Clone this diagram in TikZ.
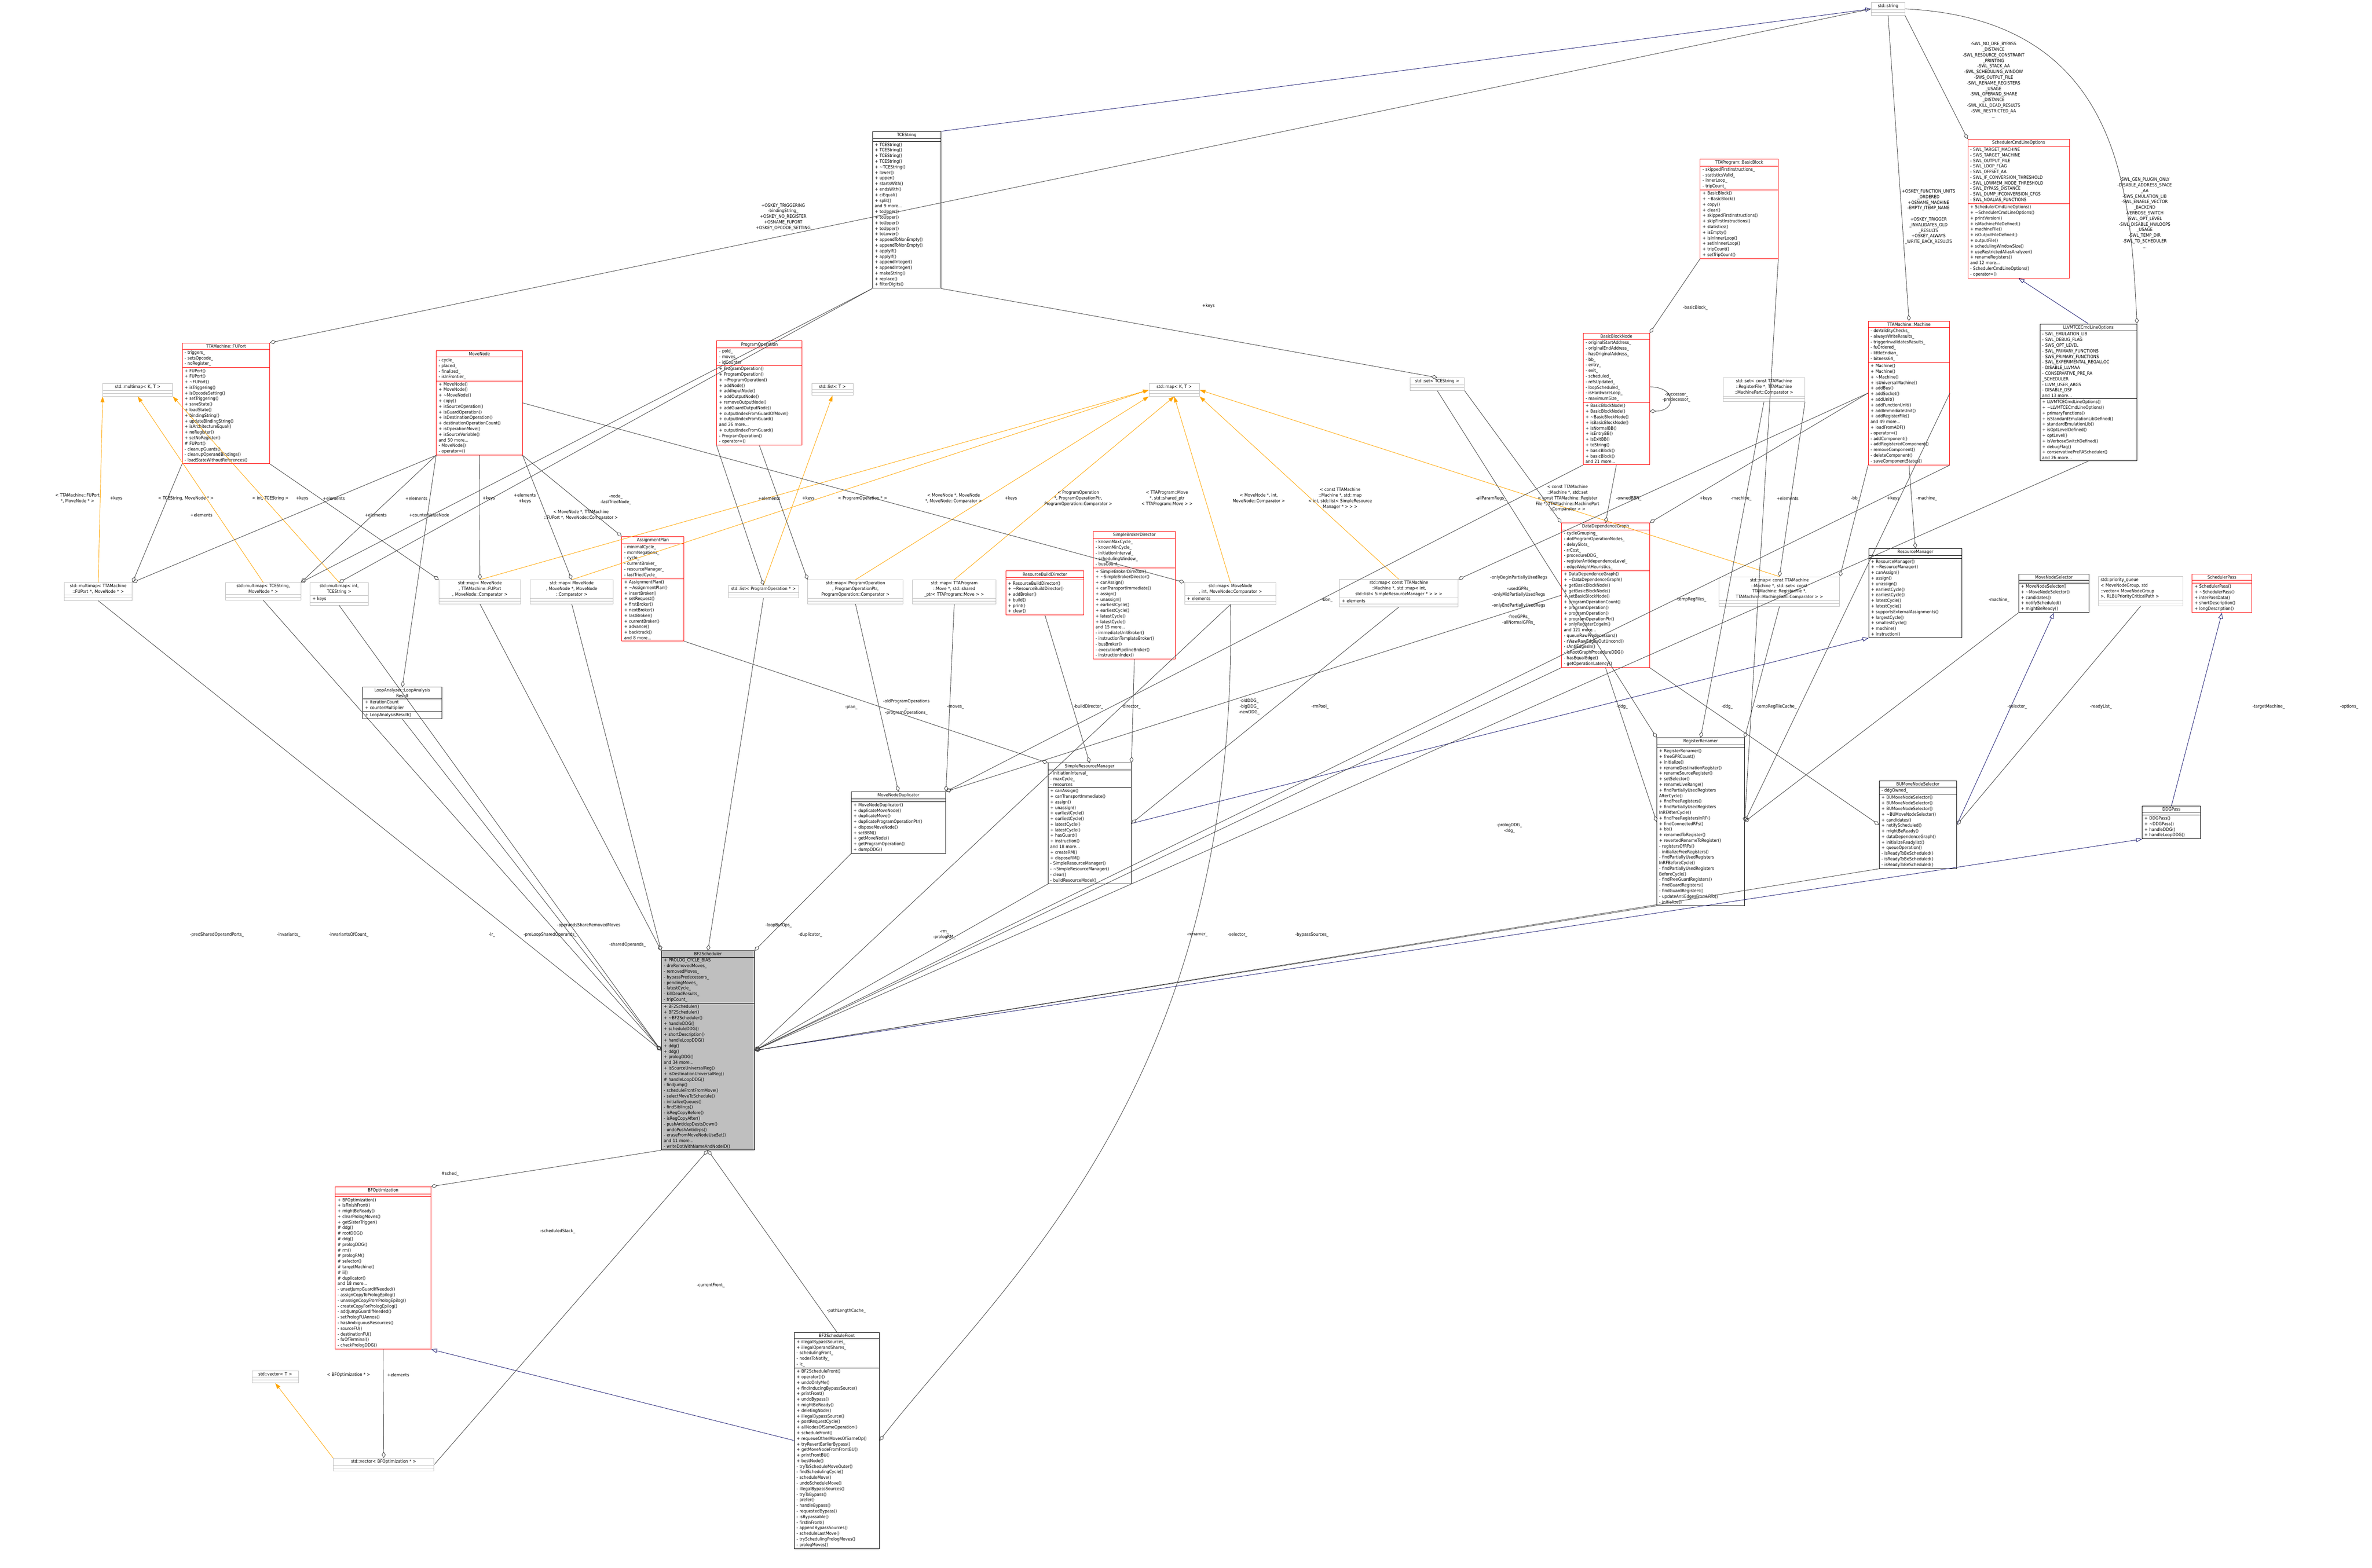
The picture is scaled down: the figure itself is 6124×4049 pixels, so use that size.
\documentclass[tikz,border=0pt]{standalone}
\usepackage{fontspec}
\setmainfont{DejaVu Sans Condensed}
\usetikzlibrary{shapes.multipart,arrows.meta}
\definecolor{edgec}{RGB}{64,64,64}
\definecolor{inhc}{RGB}{25,25,112}
\definecolor{tplc}{RGB}{255,165,0}
\definecolor{boxred}{RGB}{255,0,0}
\definecolor{boxgray}{RGB}{191,191,191}
\definecolor{tgray}{RGB}{190,190,190}
\newcommand\fnt{\fontsize{11.5}{14.5}\selectfont}
\newcommand\umlc[7]{\node[#1, text width=\dimexpr #4bp-12bp\relax] (#2) at (#3) {\centering #5\par\nodepart{two}#6\nodepart{three}#7};}
\tikzset{
 box/.style={draw=black, fill=white, line width=1.2bp, rectangle split, rectangle split parts=3, anchor=north west, align=left, font=\fnt, inner xsep=6bp, inner ysep=3bp},
 rbox/.style={box, draw=boxred},
 tbox/.style={box, draw=tgray},
 gbox/.style={box, fill=boxgray},
 comp/.style={draw=edgec, line width=1.1bp, -{Diamond[open,length=16bp,width=10bp]}},
 inh/.style={draw=inhc, line width=1.1bp, -{Triangle[open,length=15bp,width=11bp]}},
 tpl/.style={draw=tplc, line width=1.1bp, -{Triangle[length=15bp,width=10bp,fill=tplc]}},
 lbl/.style={font=\fnt, align=center, inner sep=1bp}
}
\begin{document}
\begin{tikzpicture}[x=1bp,y=-1bp]
\useasboundingbox (0,0) rectangle (6124,4049);
\fill[white] (0,0) rectangle (6124,4049);

% ---------- nodes ----------
\umlc{tbox}{str}{4831,6}{86}{std::string}{\mbox{}}{\mbox{}}
\umlc{box}{tce}{2252,339}{177}{TCEString}{\mbox{}}{+ TCEString()\\+ TCEString()\\+ TCEString()\\+ TCEString()\\+ \textasciitilde TCEString()\\+ lower()\\+ upper()\\+ startsWith()\\+ endsWith()\\+ ciEqual()\\+ split()\\and 9 more...\\+ toUpper()\\+ toUpper()\\+ toUpper()\\+ toUpper()\\+ toLower()\\+ appendToNonEmpty()\\+ appendToNonEmpty()\\+ applyIf()\\+ applyIf()\\+ appendInteger()\\+ appendInteger()\\+ makeString()\\+ replace()\\+ filterDigits()}
\umlc{rbox}{fuport}{470,885}{226}{TTAMachine::FUPort}{- triggers\_\\- setsOpcode\_\\- noRegister\_}{+ FUPort()\\+ FUPort()\\+ \textasciitilde FUPort()\\+ isTriggering()\\+ isOpcodeSetting()\\+ setTriggering()\\+ saveState()\\+ loadState()\\+ bindingString()\\+ updateBindingString()\\+ isArchitectureEqual()\\+ noRegister()\\+ setNoRegister()\\\# FUPort()\\- cleanupGuards()\\- cleanupOperandBindings()\\- loadStateWithoutReferences()}
\umlc{tbox}{mmKT}{265,990}{180}{std::multimap< K, T >}{\mbox{}}{\mbox{}}
\umlc{rbox}{movenode}{1126,905}{222}{MoveNode}{- cycle\_\\- placed\_\\- finalized\_\\- isInFrontier\_}{+ MoveNode()\\+ MoveNode()\\+ \textasciitilde MoveNode()\\+ copy()\\+ isSourceOperation()\\+ isGuardOperation()\\+ isDestinationOperation()\\+ destinationOperationCount()\\+ isOperationMove()\\+ isSourceVariable()\\and 50 more...\\- MoveNode()\\- operator=()}
\umlc{rbox}{progop}{1850,880}{220}{ProgramOperation}{- poId\_\\- moves\_\\- idCounter}{+ ProgramOperation()\\+ ProgramOperation()\\+ \textasciitilde ProgramOperation()\\+ addNode()\\+ addInputNode()\\+ addOutputNode()\\+ removeOutputNode()\\+ addGuardOutputNode()\\+ outputIndexFromGuardOfMove()\\+ outputIndexFromGuard()\\and 26 more...\\+ outputIndexFromGuard()\\- ProgramOperation()\\- operator=()}
\umlc{tbox}{listT}{2095,990}{107}{std::list< T >}{\mbox{}}{\mbox{}}
\umlc{tbox}{mapKT}{2966,990}{130}{std::map< K, T >}{\mbox{}}{\mbox{}}
\umlc{tbox}{setTCE}{3640,975}{140}{std::set< TCEString >}{\mbox{}}{\mbox{}}
\umlc{rbox}{bb}{4389,410}{201}{TTAProgram::BasicBlock}{- skippedFirstInstructions\_\\- statisticsValid\_\\- innerLoop\_\\- tripCount\_}{+ BasicBlock()\\+ \textasciitilde BasicBlock()\\+ copy()\\+ clear()\\+ skippedFirstInstructions()\\+ skipFirstInstructions()\\+ statistics()\\+ isEmpty()\\+ isInInnerLoop()\\+ setInInnerLoop()\\+ tripCount()\\+ setTripCount()}
\umlc{rbox}{bbn}{4087,860}{171}{BasicBlockNode}{- originalStartAddress\_\\- originalEndAddress\_\\- hasOriginalAddress\_\\- bb\_\\- entry\_\\- exit\_\\- scheduled\_\\- refsUpdated\_\\- loopScheduled\_\\- isHardwareLoop\_\\- maximumSize\_}{+ BasicBlockNode()\\+ BasicBlockNode()\\+ \textasciitilde BasicBlockNode()\\+ isBasicBlockNode()\\+ isNormalBB()\\+ isEntryBB()\\+ isExitBB()\\+ toString()\\+ basicBlock()\\+ basicBlock()\\and 21 more...}
\umlc{rbox}{scl}{5080,359}{262}{SchedulerCmdLineOptions}{- SWL\_TARGET\_MACHINE\\- SWS\_TARGET\_MACHINE\\- SWL\_OUTPUT\_FILE\\- SWL\_LOOP\_FLAG\\- SWL\_OFFSET\_AA\\- SWL\_IF\_CONVERSION\_THRESHOLD\\- SWL\_LOWMEM\_MODE\_THRESHOLD\\- SWL\_BYPASS\_DISTANCE\\- SWL\_DUMP\_IFCONVERSION\_CFGS\\- SWL\_NOALIAS\_FUNCTIONS}{+ SchedulerCmdLineOptions()\\+ \textasciitilde SchedulerCmdLineOptions()\\+ printVersion()\\+ isMachineFileDefined()\\+ machineFile()\\+ isOutputFileDefined()\\+ outputFile()\\+ schedulingWindowSize()\\+ useRestrictedAliasAnalyzer()\\+ renameRegisters()\\and 12 more...\\- SchedulerCmdLineOptions()\\- operator=()}
\umlc{rbox}{machine}{4823,829}{210}{TTAMachine::Machine}{- doValidityChecks\_\\- alwaysWriteResults\_\\- triggerInvalidatesResults\_\\- fuOrdered\_\\- littleEndian\_\\- bitness64\_}{+ Machine()\\+ Machine()\\+ \textasciitilde Machine()\\+ isUniversalMachine()\\+ addBus()\\+ addSocket()\\+ addUnit()\\+ addFunctionUnit()\\+ addImmediateUnit()\\+ addRegisterFile()\\and 49 more...\\+ loadFromADF()\\- operator=()\\- addComponent()\\- addRegisteredComponent()\\- removeComponent()\\- deleteComponent()\\- saveComponentStates()}
\umlc{box}{llvm}{5266,836}{250}{LLVMTCECmdLineOptions}{- SWL\_EMULATION\_LIB\\- SWL\_DEBUG\_FLAG\\- SWS\_OPT\_LEVEL\\- SWL\_PRIMARY\_FUNCTIONS\\- SWS\_PRIMARY\_FUNCTIONS\\- SWL\_EXPERIMENTAL\_REGALLOC\\- DISABLE\_LLVMAA\\- CONSERVATIVE\_PRE\_RA\\\_SCHEDULER\\- LLVM\_USER\_ARGS\\- DISABLE\_DSF\\and 13 more...}{+ LLVMTCECmdLineOptions()\\+ \textasciitilde LLVMTCECmdLineOptions()\\+ primaryFunctions()\\+ isStandardEmulationLibDefined()\\+ standardEmulationLib()\\+ isOptLevelDefined()\\+ optLevel()\\+ isVerboseSwitchDefined()\\+ debugFlag()\\+ conservativePreRAScheduler()\\and 26 more...}
\umlc{tbox}{setRF}{4448,975}{211}{std::set< const TTAMachine\\::RegisterFile *, TTAMachine\\::MachinePart::Comparator >}{\mbox{}}{\mbox{}}
\umlc{rbox}{ddg}{4031,1350}{227}{DataDependenceGraph}{- cycleGrouping\_\\- dotProgramOperationNodes\_\\- delaySlots\_\\- rrCost\_\\- procedureDDG\_\\- registerAntidependenceLevel\_\\- edgeWeightHeuristics\_}{+ DataDependenceGraph()\\+ \textasciitilde DataDependenceGraph()\\+ getBasicBlockNode()\\+ getBasicBlockNode()\\+ setBasicBlockNode()\\+ programOperationCount()\\+ programOperation()\\+ programOperation()\\+ programOperationPtr()\\+ onlyRegisterEdgeIn()\\and 121 more...\\- queueRawPredecessors()\\- rWawRawEdgesOutUncond()\\- rAntiEdgesIn()\\- isRootGraphProcedureDDG()\\- hasEqualEdge()\\- getOperationLatency()}
\umlc{box}{rr}{4277,1905}{226}{RegisterRenamer}{\mbox{}}{+ RegisterRenamer()\\+ freeGPRCount()\\+ initialize()\\+ renameDestinationRegister()\\+ renameSourceRegister()\\+ setSelector()\\+ renameLiveRange()\\+ findPartiallyUsedRegisters\\AfterCycle()\\+ findFreeRegisters()\\+ findPartiallyUsedRegisters\\InRFAfterCycle()\\+ findFreeRegistersInRF()\\+ findConnectedRFs()\\+ bb()\\+ renamedToRegister()\\+ revertedRenameToRegister()\\- registersOfRFs()\\- initializeFreeRegisters()\\- findPartiallyUsedRegisters\\InRFBeforeCycle()\\- findPartiallyUsedRegisters\\BeforeCycle()\\- findFreeGuardRegisters()\\- findGuardRegisters()\\- findGuardRegisters()\\- updateAntiEdgesFromLRTo()\\- initialize()}
\umlc{box}{resm}{4824,1416}{241}{ResourceManager}{\mbox{}}{+ ResourceManager()\\+ \textasciitilde ResourceManager()\\+ canAssign()\\+ assign()\\+ unassign()\\+ earliestCycle()\\+ earliestCycle()\\+ latestCycle()\\+ latestCycle()\\+ supportsExternalAssignments()\\+ largestCycle()\\+ smallestCycle()\\+ machine()\\+ instruction()}
\umlc{box}{bums}{4851,2016}{200}{BUMoveNodeSelector}{- ddgOwned\_}{+ BUMoveNodeSelector()\\+ BUMoveNodeSelector()\\+ BUMoveNodeSelector()\\+ \textasciitilde BUMoveNodeSelector()\\+ candidates()\\+ notifyScheduled()\\+ mightBeReady()\\+ dataDependenceGraph()\\+ initializeReadylist()\\+ queueOperation()\\- isReadyToBeScheduled()\\- isReadyToBeScheduled()\\- isReadyToBeScheduled()}
\umlc{tbox}{mapMS}{4438,1489}{311}{std::map< const TTAMachine\\::Machine *, std::set< const\\ TTAMachine::RegisterFile *,\\ TTAMachine::MachinePart::Comparator > >}{\mbox{}}{\mbox{}}
\umlc{tbox}{mapMM}{3458,1496}{306}{std::map< const TTAMachine\\::Machine *, std::map< int,\\ std::list< SimpleResourceManager * > > >}{+ elements}{\mbox{}}
\umlc{tbox}{mapPO}{2085,1497}{246}{std::map< ProgramOperation\\ *, ProgramOperationPtr,\\ ProgramOperation::Comparator >}{\mbox{}}{\mbox{}}
\umlc{tbox}{mapMv}{2355,1497}{216}{std::map< TTAProgram\\::Move *, std::shared\\\_ptr< TTAProgram::Move > >}{\mbox{}}{\mbox{}}
\umlc{rbox}{rbd}{2596,1474}{202}{ResourceBuildDirector}{\mbox{}}{+ ResourceBuildDirector()\\+ \textasciitilde ResourceBuildDirector()\\+ addBroker()\\+ build()\\+ print()\\+ clear()}
\umlc{rbox}{sbd}{2822,1372}{212}{SimpleBrokerDirector}{- knownMaxCycle\_\\- knownMinCycle\_\\- initiationInterval\_\\- schedulingWindow\_\\- busCount\_}{+ SimpleBrokerDirector()\\+ \textasciitilde SimpleBrokerDirector()\\+ canAssign()\\+ canTransportImmediate()\\+ assign()\\+ unassign()\\+ earliestCycle()\\+ earliestCycle()\\+ latestCycle()\\+ latestCycle()\\and 15 more...\\- immediateUnitBroker()\\- instructionTemplateBroker()\\- busBroker()\\- executionPipelineBroker()\\- instructionIndex()}
\umlc{tbox}{mapMNint}{3058,1504}{236}{std::map< MoveNode\\ *, int, MoveNode::Comparator >}{+ elements}{\mbox{}}
\umlc{box}{mnd}{2197,2044}{244}{MoveNodeDuplicator}{\mbox{}}{+ MoveNodeDuplicator()\\+ duplicateMoveNode()\\+ duplicateMove()\\+ duplicateProgramOperationPtr()\\+ disposeMoveNode()\\+ setBBN()\\+ getMoveNode()\\+ getProgramOperation()\\+ dumpDDG()}
\umlc{box}{srm}{2705,1970}{215}{SimpleResourceManager}{- initiationInterval\_\\- maxCycle\_\\- resources}{+ canAssign()\\+ canTransportImmediate()\\+ assign()\\+ unassign()\\+ earliestCycle()\\+ earliestCycle()\\+ latestCycle()\\+ latestCycle()\\+ hasGuard()\\+ instruction()\\and 18 more...\\+ createRM()\\+ disposeRM()\\- SimpleResourceManager()\\- \textasciitilde SimpleResourceManager()\\- clear()\\- buildResourceModel()}
\umlc{box}{mns}{5211,1482}{182}{MoveNodeSelector}{\mbox{}}{+ MoveNodeSelector()\\+ \textasciitilde MoveNodeSelector()\\+ candidates()\\+ notifyScheduled()\\+ mightBeReady()}
\node[tbox, text width=\dimexpr 218bp-12bp\relax] (pq) at (5417,1488) {std::priority\_queue\\< MoveNodeGroup, std\\::vector< MoveNodeGroup\\ >, RLBUPriorityCriticalPath >\nodepart{two}\mbox{}\nodepart{three}\mbox{}};
\umlc{rbox}{sp}{5659,1482}{154}{SchedulerPass}{\mbox{}}{+ SchedulerPass()\\+ \textasciitilde SchedulerPass()\\+ interPassData()\\+ shortDescription()\\+ longDescription()}
\umlc{box}{ddgpass}{5530,2081}{151}{DDGPass}{\mbox{}}{+ DDGPass()\\+ \textasciitilde DDGPass()\\+ handleDDG()\\+ handleLoopDDG()}
\umlc{tbox}{mmFM}{165,1504}{176}{std::multimap< TTAMachine\\::FUPort *, MoveNode * >}{\mbox{}}{\mbox{}}
\umlc{tbox}{mmTM}{582,1504}{194}{std::multimap< TCEString,\\ MoveNode * >}{\mbox{}}{\mbox{}}
\umlc{tbox}{mmIT}{800,1504}{150}{std::multimap< int,\\ TCEString >}{+ keys}{\mbox{}}
\umlc{tbox}{mapMF}{1133,1497}{211}{std::map< MoveNode\\ *, TTAMachine::FUPort\\ *, MoveNode::Comparator >}{\mbox{}}{\mbox{}}
\umlc{tbox}{mapMMN}{1368,1497}{215}{std::map< MoveNode\\ *, MoveNode *, MoveNode\\::Comparator >}{\mbox{}}{\mbox{}}
\umlc{box}{lar}{936,1774}{204}{LoopAnalyzer::LoopAnalysis\\Result}{+ iterationCount\\+ counterMultiplier}{+ LoopAnalysisResult()}
\umlc{rbox}{ap}{1605,1385}{160}{AssignmentPlan}{- minimalCycle\_\\- mcmNegations\_\\- cycle\_\\- currentBroker\_\\- resourceManager\_\\- lastTriedCycle\_}{+ AssignmentPlan()\\+ \textasciitilde AssignmentPlan()\\+ insertBroker()\\+ setRequest()\\+ firstBroker()\\+ nextBroker()\\+ lastBroker()\\+ currentBroker()\\+ advance()\\+ backtrack()\\and 8 more...}
\umlc{tbox}{listPO}{1880,1511}{181}{std::list< ProgramOperation * >}{\mbox{}}{\mbox{}}
\umlc{gbox}{bf2}{1707,2455}{240}{BF2Scheduler}{+ PROLOG\_CYCLE\_BIAS\\- dreRemovedMoves\_\\- removedMoves\_\\- bypassPredecessors\_\\- pendingMoves\_\\- latestCycle\_\\- killDeadResults\_\\- tripCount\_}{+ BF2Scheduler()\\+ BF2Scheduler()\\+ \textasciitilde BF2Scheduler()\\+ handleDDG()\\+ scheduleDDG()\\+ shortDescription()\\+ handleLoopDDG()\\+ ddg()\\+ ddg()\\+ prologDDG()\\and 34 more...\\+ isSourceUniversalReg()\\+ isDestinationUniversalReg()\\\# handleLoopDDG()\\- findJump()\\- scheduleFrontFromMove()\\- selectMoveToSchedule()\\- initializeQueues()\\- findSiblings()\\- isRegCopyBefore()\\- isRegCopyAfter()\\- pushAntidepDestsDown()\\- undoPushAntideps()\\- eraseFromMoveNodeUseSet()\\and 11 more...\\- writeDotWithNameAndNodeID()}
\umlc{rbox}{bfopt}{865,3064}{247}{BFOptimization}{\mbox{}}{+ BFOptimization()\\+ isFinishFront()\\+ mightBeReady()\\+ clearPrologMoves()\\+ getSisterTrigger()\\\# ddg()\\\# rootDDG()\\\# ddg()\\\# prologDDG()\\\# rm()\\\# prologRM()\\\# selector()\\\# targetMachine()\\\# ii()\\\# duplicator()\\and 18 more...\\- unsetJumpGuardIfNeeded()\\- assignCopyToPrologEpilog()\\- unassignCopyFromPrologEpilog()\\- createCopyForPrologEpilog()\\- addJumpGuardIfNeeded()\\- setPrologFUAnnos()\\- hasAmbiguousResources()\\- sourceFU()\\- destinationFU()\\- fuOfTerminal()\\- checkPrologDDG()}
\umlc{box}{bf2f}{2050,3440}{220}{BF2ScheduleFront}{+ illegalBypassSources\_\\+ illegalOperandShares\_\\- schedulingFront\_\\- nodesToNotify\_\\- lc\_}{+ BF2ScheduleFront()\\+ operator()()\\+ undoOnlyMe()\\+ findInducingBypassSource()\\+ printFront()\\+ undoBypass()\\+ mightBeReady()\\+ deletingNode()\\+ illegalBypassSource()\\+ postRequestCycle()\\+ allNodesOfSameOperation()\\+ scheduleFront()\\+ requeueOtherMovesOfSameOp()\\+ tryRevertEarlierBypass()\\+ getMoveNodeFromFrontBU()\\+ printFrontBU()\\+ bestNode()\\- tryToScheduleMoveOuter()\\- findSchedulingCycle()\\- scheduleMove()\\- undoScheduleMove()\\- illegalBypassSources()\\- tryToBypass()\\- prefer()\\- handleBypass()\\- requestedBypass()\\- isBypassable()\\- firstInFront()\\- appendBypassSources()\\- scheduleLastMove()\\- trySchedulingPrologMoves()\\- prologMoves()}
\umlc{tbox}{vecT}{650,3540}{120}{std::vector< T >}{\mbox{}}{\mbox{}}
\umlc{tbox}{vecBF}{860,3765}{260}{std::vector< BFOptimization * >}{\mbox{}}{\mbox{}}

% ---------- inheritance ----------
\draw[inh] (tce.north east) -- (str.west);
\draw[inh] (llvm.north) -- (scl.south);
\draw[inh] (srm.east) -- (resm.south west);
\draw[inh] (bums.east) -- (mns.south);
\draw[inh] (bf2.east) -- (ddgpass.south west);
\draw[inh] (ddgpass.north) -- (sp.south);
\draw[inh] (bf2f.west) -- (bfopt.south east);

% ---------- templates ----------
\draw[tpl] (mmFM.north) -- (mmKT.south west);
\draw[tpl] (mmTM.north) -- (mmKT.south);
\draw[tpl] (mmIT.north) -- (mmKT.south east);
\draw[tpl] (mapMF.north) -- (mapKT.west);
\draw[tpl] (mapMMN.north) -- (mapKT.west);
\draw[tpl] (listPO.north) -- (listT.south);
\draw[tpl] (mapPO.north) -- (mapKT.south west);
\draw[tpl] (mapMv.north) -- (mapKT.south);
\draw[tpl] (mapMNint.north) -- (mapKT.south);
\draw[tpl] (mapMM.north) -- (mapKT.south east);
\draw[tpl] (mapMS.north) -- (mapKT.east);
\draw[tpl] (vecBF.north west) -- (vecT.south);

% ---------- compositions ----------
\draw[comp] (str.west) -- (fuport.north east);
\draw[comp] (str.south) -- (machine.north);
\draw[comp] (str.south east) -- (scl.north west);
\draw[comp] (str.east) .. controls (5480,50) and (5500,500) .. (llvm.north east);
\draw[comp] (tce.south west) -- (mmTM.north east);
\draw[comp] (tce.south west) -- (mmIT.north);
\draw[comp] (tce.south east) -- (setTCE.north);
\draw[comp] (fuport.south west) -- (mmFM.north east);
\draw[comp] (fuport.south east) -- (mapMF.north west);
\draw[comp] (movenode.south west) -- (mmFM.north east);
\draw[comp] (movenode.south west) -- (mmTM.north east);
\draw[comp] (movenode.south west) -- (lar.north);
\draw[comp] (movenode.south) -- (mapMF.north);
\draw[comp] (movenode.south east) -- (mapMMN.north);
\draw[comp] (movenode.east) -- (mapMNint.north west);
\draw[comp] (movenode.south east) -- (ap.north west);
\draw[comp] (progop.south west) -- (listPO.north);
\draw[comp] (progop.south) -- (mapPO.north west);
\draw[comp] (mmFM.south) -- (bf2.west);
\draw[comp] (mmTM.south) -- (bf2.west);
\draw[comp] (mmIT.south) -- (bf2.west);
\draw[comp] (lar.south) -- (bf2.west);
\draw[comp] (mapMF.south) -- (bf2.north west);
\draw[comp] (mapMMN.south) -- (bf2.north west);
\draw[comp] (listPO.south) -- (bf2.north);
\draw[comp] (mnd.south west) -- (bf2.north east);
\draw[comp] (srm.south west) -- (bf2.east);
\draw[comp] (rr.south west) -- (bf2.east);
\draw[comp] (bums.south west) -- (bf2.east);
\draw[comp] (mapMNint.south) -- (bf2.east);
\draw[comp] (ddg.south west) -- (bf2.east);
\draw[comp] (machine.south east) -- (bf2.east);
\draw[comp] (llvm.south) -- (bf2.east);
\draw[comp] (mapMNint.south) .. controls (3200,2800) and (2600,3300) .. (bf2f.east);
\draw[comp] (ddg.west) -- (mnd.north east);
\draw[comp] (bbn.south west) -- (mnd.north east);
\draw[comp] (mapPO.south) -- (mnd.north);
\draw[comp] (mapMv.south) -- (mnd.north east);
\draw[comp] (ap.south east) -- (srm.north west);
\draw[comp] (rbd.south) -- (srm.north);
\draw[comp] (sbd.south) -- (srm.north east);
\draw[comp] (mapMM.south) -- (srm.east);
\draw[comp] (bf2.south west) -- (bfopt.north east);
\draw[comp] (vecBF.east) -- (bf2.south);
\draw[comp] (bf2f.north) -- (bf2.south);
\draw[comp] (bfopt.south) -- (vecBF.north);
\draw[comp] (bb.south west) -- (bbn.north east);
\draw[comp] (bbn.20) .. controls +(70,0) and +(70,0) .. (bbn.-20);
\draw[comp] (bbn.south) -- (ddg.north);
\draw[comp] (machine.west) -- (ddg.north east);
\draw[comp] (setTCE.south east) -- (ddg.north west);
\draw[comp] (setTCE.south) -- (rr.north west);
\draw[comp] (setRF.south) -- (rr.north);
\draw[comp] (setRF.south east) -- (mapMS.north);
\draw[comp] (machine.south west) -- (mapMS.north east);
\draw[comp] (machine.west) -- (mapMM.north east);
\draw[comp] (mapMS.south) -- (rr.north east);
\draw[comp] (ddg.south) -- (rr.west);
\draw[comp] (ddg.south east) -- (bums.west);
\draw[comp] (bb.south east) -- (rr.east);
\draw[comp] (machine.south) -- (resm.north);
\draw[comp] (machine.east) -- (rr.east);
\draw[comp] (mns.south west) -- (rr.east);
\draw[comp] (pq.south) -- (bums.east);

% ---------- labels ----------
\node[lbl] (l1) at (2022,560) {+OSKEY\_TRIGGERING\\-bindingString\_\\+OSKEY\_NO\_REGISTER\\+OSNAME\_FUPORT\\+OSKEY\_OPCODE\_SETTING};
\node[lbl] (l2) at (4979,560) {+OSKEY\_FUNCTION\_UNITS\\\_ORDERED\\+OSNAME\_MACHINE\\-EMPTY\_ITEMP\_NAME\\ \\+OSKEY\_TRIGGER\\\_INVALIDATES\_OLD\\\_RESULTS\\+OSKEY\_ALWAYS\\\_WRITE\_BACK\_RESULTS};
\node[lbl] (l3) at (5147,207) {-SWL\_NO\_DRE\_BYPASS\\\_DISTANCE\\-SWL\_RESOURCE\_CONSTRAINT\\\_PRINTING\\-SWL\_STACK\_AA\\-SWL\_SCHEDULING\_WINDOW\\-SWS\_OUTPUT\_FILE\\-SWL\_RENAME\_REGISTERS\\\_USAGE\\-SWL\_OPERAND\_SHARE\\\_DISTANCE\\-SWL\_KILL\_DEAD\_RESULTS\\-SWL\_RESTRICTED\_AA\\...};
\node[lbl] (l4) at (5537,550) {-SWL\_GEN\_PLUGIN\_ONLY\\-DISABLE\_ADDRESS\_SPACE\\\_AA\\-SWS\_EMULATION\_LIB\\-SWL\_ENABLE\_VECTOR\\\_BACKEND\\-VERBOSE\_SWITCH\\-SWL\_OPT\_LEVEL\\-SWL\_DISABLE\_HWLOOPS\\\_USAGE\\-SWL\_TEMP\_DIR\\-SWL\_TD\_SCHEDULER\\...};
\node[lbl] (l5) at (780,1287) {+keys};
\node[lbl] (l6) at (1075,1287) {+elements};
\node[lbl] (l7) at (3120,790) {+keys};
\node[lbl] (l8) at (300,1287) {+keys};
\node[lbl] (l9) at (862,1287) {+elements};
\node[lbl] (l10) at (520,1330) {+elements};
\node[lbl] (l11) at (970,1330) {+elements};
\node[lbl] (l12) at (1108,1330) {+counterValueNode};
\node[lbl] (l13) at (1262,1287) {+keys};
\node[lbl] (l14) at (1355,1287) {+elements\\+keys};
\node[lbl] (l15) at (2610,1287) {+keys};
\node[lbl] (l16) at (1590,1290) {-node\_\\-lastTriedNode\_};
\node[lbl] (l17) at (1986,1287) {+elements};
\node[lbl] (l18) at (2087,1287) {+keys};
\node[lbl] (l19) at (200,1287) {< TTAMachine::FUPort\\ *, MoveNode * >};
\node[lbl] (l20) at (480,1287) {< TCEString, MoveNode * >};
\node[lbl] (l21) at (698,1287) {< int, TCEString >};
\node[lbl] (l22) at (1500,1330) {< MoveNode *, TTAMachine\\::FUPort *, MoveNode::Comparator >};
\node[lbl] (l23) at (2462,1287) {< MoveNode *, MoveNode\\ *, MoveNode::Comparator >};
\node[lbl] (l24) at (2227,1287) {< ProgramOperation * >};
\node[lbl] (l25) at (2784,1287) {< ProgramOperation\\ *, ProgramOperationPtr,\\ ProgramOperation::Comparator >};
\node[lbl] (l26) at (3013,1287) {< TTAProgram::Move\\ *, std::shared\_ptr\\ < TTAProgram::Move > >};
\node[lbl] (l27) at (3250,1287) {< MoveNode *, int,\\ MoveNode::Comparator >};
\node[lbl] (l28) at (3460,1287) {< const TTAMachine\\::Machine *, std::map\\ < int, std::list< SimpleResource\\Manager * > > >};
\node[lbl] (l29) at (4047,1287) {< const TTAMachine\\::Machine *, std::set\\ < const TTAMachine::Register\\File *, TTAMachine::MachinePart\\::Comparator > >};
\node[lbl] (l30) at (900,3551) {< BFOptimization * >};
\node[lbl] (l31) at (1028,3551) {+elements};
\node[lbl] (l32) at (560,2414) {-predSharedOperandPorts\_};
\node[lbl] (l33) at (745,2414) {-invariants\_};
\node[lbl] (l34) at (900,2414) {-invariantsOfCount\_};
\node[lbl] (l35) at (1270,2414) {-lr\_};
\node[lbl] (l36) at (1420,2414) {-preLoopSharedOperands\_};
\node[lbl] (l37) at (1620,2440) {-sharedOperands\_};
\node[lbl] (l38) at (1520,2390) {-operandsShareRemovedMoves};
\node[lbl] (l39) at (2010,2390) {-loopBufOps\_};
\node[lbl] (l40) at (2092,2414) {-duplicator\_};
\node[lbl] (l41) at (2438,2414) {-rm\_\\-prologRM\_};
\node[lbl] (l42) at (3091,2414) {-renamer\_};
\node[lbl] (l43) at (3195,2414) {-selector\_};
\node[lbl] (l44) at (3387,2414) {-bypassSources\_};
\node[lbl] (l45) at (2185,3385) {-pathLengthCache\_};
\node[lbl] (l46) at (3897,2139) {-prologDDG\_\\-ddg\_};
\node[lbl] (l47) at (3225,1825) {-oldDDG\_\\-bigDDG\_\\-newDDG\_};
\node[lbl] (l48) at (3426,1549) {-bbn\_};
\node[lbl] (l49) at (2340,1826) {-oldProgramOperations\\\_\\-programOperations\_};
\node[lbl] (l50) at (2467,1826) {-moves\_};
\node[lbl] (l51) at (2198,1826) {-plan\_};
\node[lbl] (l52) at (2810,1825) {-buildDirector\_};
\node[lbl] (l53) at (2920,1825) {-director\_};
\node[lbl] (l54) at (3408,1825) {-rmPool\_};
\node[lbl] (l55) at (1162,3031) {\#sched\_};
\node[lbl] (l56) at (1440,3180) {-scheduledStack\_};
\node[lbl] (l57) at (1835,3320) {-currentFront\_};
\node[lbl] (l58) at (4377,795) {-basicBlock\_};
\node[lbl] (l59) at (4328,1027) {-successor\_\\-predecessor\_};
\node[lbl] (l60) at (4205,1287) {-ownedBBN\_};
\node[lbl] (l61) at (4495,1287) {-machine\_};
\node[lbl] (l62) at (4615,1287) {+elements};
\node[lbl] (l63) at (4404,1287) {+keys};
\node[lbl] (l64) at (4888,1287) {+keys};
\node[lbl] (l65) at (3921,1550) {-onlyBeginPartiallyUsedRegs\\ \\-usedGPRs\_\\-onlyMidPartiallyUsedRegs\\ \\-onlyEndPartiallyUsedRegs\\ \\-freeGPRs\_\\-allNormalGPRs\_};
\node[lbl] (l66) at (3849,1287) {-allParamRegs\_};
\node[lbl] (l67) at (4366,1548) {-tempRegFiles\_};
\node[lbl] (l68) at (4586,1825) {-tempRegFileCache\_};
\node[lbl] (l69) at (4188,1825) {-ddg\_};
\node[lbl] (l70) at (4459,1825) {-ddg\_};
\node[lbl] (l71) at (4790,1287) {-bb\_};
\node[lbl] (l72) at (4974,1287) {-machine\_};
\node[lbl] (l73) at (5161,1549) {-machine\_};
\node[lbl] (l74) at (5208,1825) {-selector\_};
\node[lbl] (l75) at (5424,1825) {-readyList\_};
\node[lbl] (l76) at (5857,1825) {-targetMachine\_};
\node[lbl] (l77) at (6065,1825) {-options\_};
\end{tikzpicture}
\end{document}
